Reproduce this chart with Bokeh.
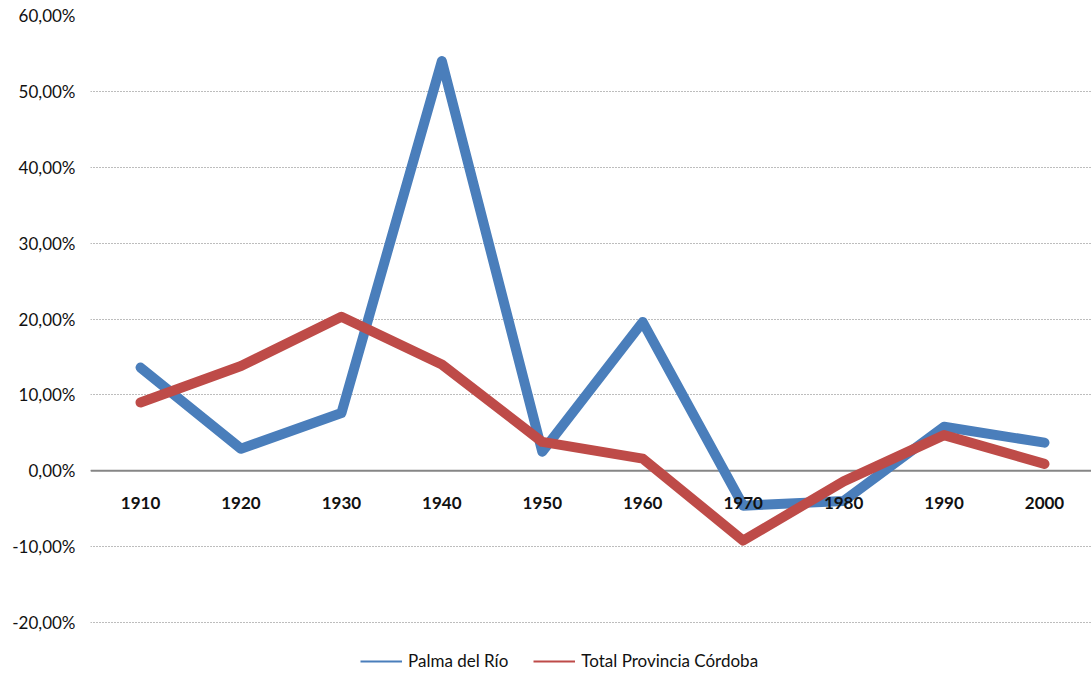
from bokeh.plotting import figure
from bokeh.models import Range1d, FixedTicker, Span, Legend, LegendItem, ColumnDataSource
from bokeh.core.properties import value
from bokeh.embed import file_html
from bokeh.resources import INLINE

years = ["1910", "1920", "1930", "1940", "1950", "1960", "1970", "1980", "1990", "2000"]
palma = [13.6, 2.9, 7.6, 54.0, 2.5, 19.6, -4.6, -4.0, 5.8, 3.7]
cordoba = [9.0, 13.8, 20.3, 14.0, 3.8, 1.6, -9.2, -1.4, 4.7, 0.9]
y_ticks = [-20, -10, 0, 10, 20, 30, 40, 50, 60]
y_tick_labels = ["-20,00%", "-10,00%", "0,00%", "10,00%", "20,00%", "30,00%", "40,00%", "50,00%", "60,00%"]
series_names = ["Palma del Río", "Total Provincia Córdoba"]

FONT = "Lato"
BLUE = "#4A7EBB"
RED = "#BE4B48"

xs = list(range(1, len(years) + 1))
src = ColumnDataSource(dict(x=xs, palma=palma, cordoba=cordoba, year=years, zero=[0] * len(years)))

p = figure(width=1091, height=675, output_backend="svg", toolbar_location=None,
           x_range=Range1d(0.502, 10.468), y_range=Range1d(-26.985, 60),
           min_border_left=90, min_border_right=0, min_border_top=15, min_border_bottom=0)
p.outline_line_color = None
p.background_fill_color = "white"
p.border_fill_color = "white"

p.xaxis.visible = False
p.xgrid.visible = False

p.yaxis.ticker = FixedTicker(ticks=y_ticks)
p.yaxis.major_label_overrides = {t: l for t, l in zip(y_ticks, y_tick_labels)}
p.yaxis.axis_line_color = None
p.yaxis.major_tick_line_color = None
p.yaxis.minor_tick_line_color = None
p.yaxis.major_tick_out = 0
p.yaxis.major_tick_in = 0
p.yaxis.major_label_standoff = 15
p.yaxis.major_label_text_font = FONT
p.yaxis.major_label_text_font_size = "17px"
p.yaxis.major_label_text_color = "#111111"

p.ygrid.ticker = FixedTicker(ticks=y_ticks)
p.ygrid.grid_line_color = "#7a7a7a"
p.ygrid.grid_line_dash = "1 2"
p.ygrid.grid_line_width = 1

zero = Span(location=0, dimension="width", line_color="#868686", line_width=2, level="underlay")
p.add_layout(zero)

r1 = p.line(x="x", y="palma", source=src, line_color=BLUE, line_width=10, line_join="round", line_cap="round")
r2 = p.line(x="x", y="cordoba", source=src, line_color=RED, line_width=10, line_join="round", line_cap="round")

p.text(x="x", y="zero", text="year", source=src, text_font=value(FONT), text_font_style="bold",
       text_font_size="17px", text_align="center", text_baseline="middle", y_offset=32,
       text_color="#111111")

# legend proxies (thin lines)
l1 = p.line(x=[xs[0]], y=[palma[0]], line_color=BLUE, line_width=2)
l2 = p.line(x=[xs[0]], y=[cordoba[0]], line_color=RED, line_width=2)

legend = Legend(items=[LegendItem(label=series_names[0], renderers=[l1]),
                       LegendItem(label=series_names[1], renderers=[l2])],
                orientation="horizontal", location=(270, 4), margin=0, padding=0,
                spacing=25, glyph_width=42, glyph_height=16, label_height=16,
                label_standoff=6, label_text_font=FONT, label_text_font_size="17px",
                label_text_color="#111111", background_fill_alpha=0, border_line_color=None)
p.add_layout(legend)

open("out.html", "w").write(file_html(p, INLINE))
